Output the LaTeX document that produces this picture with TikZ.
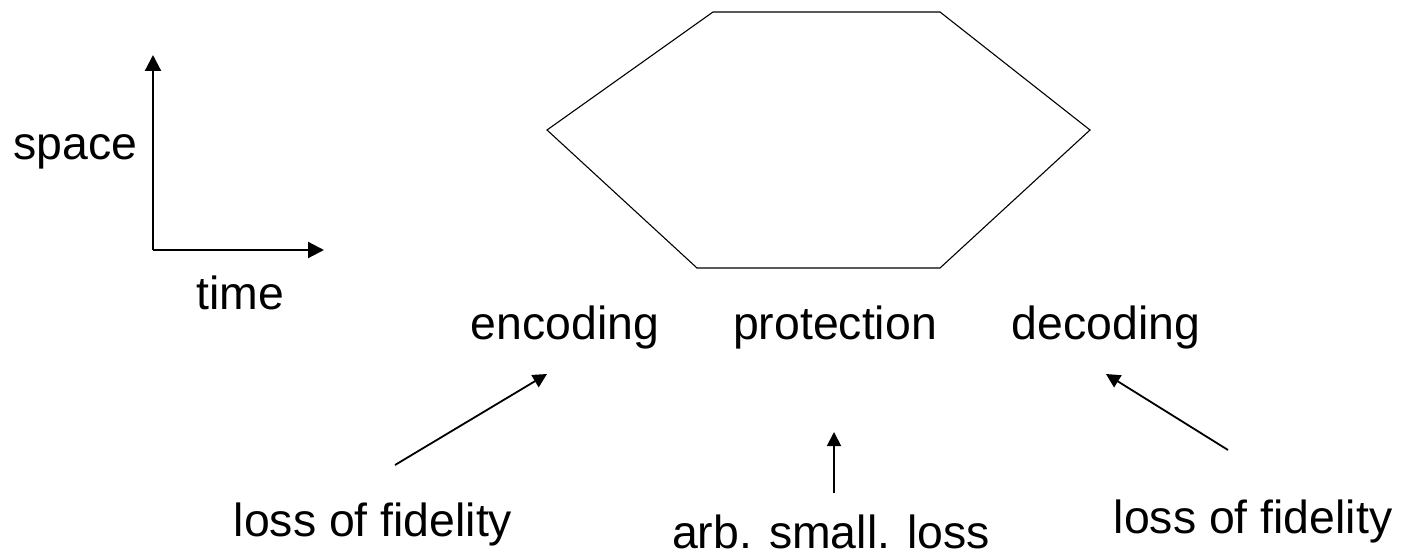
\documentclass[tikz,border=0pt]{standalone}
\usepackage{fontspec}
\setmainfont{Liberation Sans}
\usetikzlibrary{arrows.meta}
\begin{document}
\begin{tikzpicture}[x=0.5pt,y=-0.5pt,
  lbl/.style={font=\fontsize{23.2}{28}\selectfont, inner sep=0pt, anchor=base},
  axis/.style={line width=1.1pt, -{Triangle[length=8pt,width=8pt]}},
  ptr/.style={line width=0.9pt, -{Triangle[length=7pt,width=7pt]}},
  hexa/.style={line width=0.55pt}]
\useasboundingbox (0,0) rectangle (1402,555);

% time/space axes
\coordinate (o) at (153,250);
\coordinate (up) at (153,55);
\coordinate (rt) at (324,250);
\draw[axis] (o) -- (up);
\draw[axis] (o) -- (rt);
\node[lbl] (space) at (75.5,160) {space};
\node[lbl] (time) at (240,310) {time};

% hexagon
\coordinate (h1) at (547,130);
\coordinate (h2) at (713,12);
\coordinate (h3) at (940,12);
\coordinate (h4) at (1090,130);
\coordinate (h5) at (940,268);
\coordinate (h6) at (697,268);
\draw[hexa] (h1) -- (h2) -- (h3) -- (h4) -- (h5) -- (h6) -- cycle;

% stage labels
\node[lbl] (enc) at (565,340) {encoding};
\node[lbl] (prot) at (835,340) {protection};
\node[lbl] (dec) at (1106,340) {decoding};

% loss labels
\node[lbl] (lossL) at (373,536) {loss of fidelity};
\node[lbl] (arb) at (831,548) {arb. small. loss};
\node[lbl] (lossR) at (1253,533) {loss of fidelity};

% pointers
\coordinate (aL0) at (395,465);
\coordinate (aL1) at (547,374);
\coordinate (aM0) at (834,493);
\coordinate (aM1) at (834,432);
\coordinate (aR0) at (1228,450);
\coordinate (aR1) at (1106,374);
\draw[ptr] (aL0) -- (aL1);
\draw[ptr] (aM0) -- (aM1);
\draw[ptr] (aR0) -- (aR1);
\end{tikzpicture}
\end{document}
